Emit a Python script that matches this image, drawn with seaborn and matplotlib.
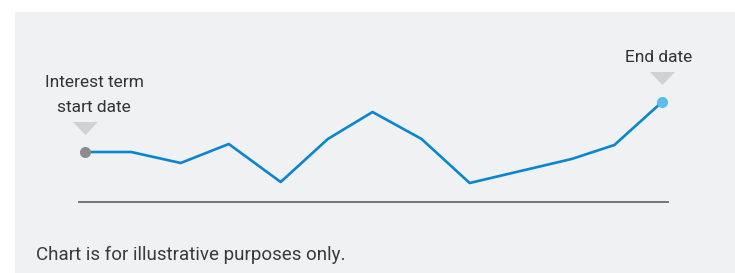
import numpy as np
import pandas as pd
import seaborn as sns
from matplotlib import pyplot as plt
import matplotlib.patches as patches

# values (x = period, y = level above the baseline)
periods = [0, 0.96, 1.99, 2.99, 4.07, 5.05, 5.98, 7.0, 8.0, 9.06, 10.12, 11.01, 12.0]
levels = [50, 50, 39, 58, 20, 63, 90, 63, 19, 31, 43, 57, 100]
start_label = ["Interest term", "start date"]
end_label = "End date"
caption = "Chart is for illustrative purposes only."

sns.set_style("white")
plt.rcParams['font.family'] = ['Roboto', 'DejaVu Sans']

df = pd.DataFrame({'period': periods, 'level': levels})

fig = plt.figure(figsize=(7.35, 2.73), dpi=100)
fig.patch.set_facecolor('white')
# grey panel behind the chart
fig.patches.append(
    patches.Rectangle(
        (15 / 735, 0), 1, 1 - 12 / 273,
        transform=fig.transFigure,
        facecolor='#f0f1f3',
        edgecolor='none',
        zorder=-10
    )
)

ax = fig.add_axes([79 / 735, 1 - 202 / 273, 589 / 735, 150 / 273])
ax.set_zorder(2)
ax.set_facecolor('none')
sns.lineplot(data=df, x='period', y='level', ax=ax, color='#0a86d0', linewidth=1.9)

# end points
ax.scatter(periods[0], levels[0], s=64, color='#8c8c90', zorder=5, clip_on=False, linewidths=0)
ax.scatter(periods[-1], levels[-1], s=64, color='#5bbdeb', zorder=5, clip_on=False, linewidths=0)

# little grey pointers above the end points
tri = [(-1, 0.52), (1, 0.52), (0, -0.52)]
ax.scatter(periods[0], levels[0] + 24, s=324, marker=tri, color='#d0d1d3', clip_on=False, linewidths=0)
ax.scatter(periods[-1], levels[-1] + 24, s=324, marker=tri, color='#d0d1d3', clip_on=False, linewidths=0)

# two-line label over the start point, one text per line
ax.text(periods[0] + 0.19, levels[0] + 65, start_label[0], ha='center', va='baseline',
        fontsize=12.5, color='#333333', clip_on=False)
ax.text(periods[0] + 0.19, levels[0] + 40, start_label[1], ha='center', va='baseline',
        fontsize=12.5, color='#333333', clip_on=False)
ax.text(periods[-1] - 0.08, levels[-1] + 40, end_label, ha='center', va='baseline',
        fontsize=12.5, color='#333333', clip_on=False)

ax.set_xlim(-0.125, 12.125)
ax.set_ylim(0, 150)
ax.set_xticks([])
ax.set_yticks([])
ax.set_xlabel('')
ax.set_ylabel('')
for side in ['top', 'left', 'right']:
    ax.spines[side].set_visible(False)
ax.spines['bottom'].set_color('#6b6b6b')
ax.spines['bottom'].set_linewidth(1.3)

fig.text(36 / 735, 1 - 255 / 273, caption, ha='left', va='center', fontsize=13.5, color='#3a3a3a')

fig.savefig('out.png', dpi=100)
